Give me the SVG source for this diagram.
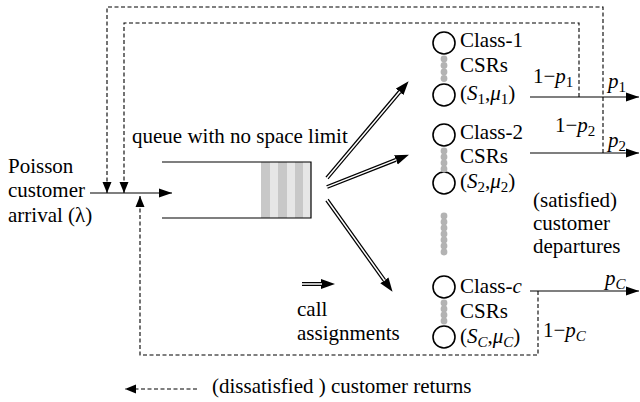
<svg xmlns="http://www.w3.org/2000/svg" width="640" height="402" viewBox="0 0 640 402">
<defs>
<marker id="ah" markerUnits="userSpaceOnUse" markerWidth="13" markerHeight="10" viewBox="0 -5 13 10" refX="13" refY="0" orient="auto"><path d="M0,-4.5L13,0L0,4.5z" fill="#000"/></marker>
<marker id="dh" markerUnits="userSpaceOnUse" markerWidth="11" markerHeight="10" viewBox="0 -5 11 10" refX="11" refY="0" orient="auto"><path d="M0,-4.5L11,0L0,4.5z" fill="#000"/></marker>
<marker id="bh" markerUnits="userSpaceOnUse" markerWidth="14" markerHeight="11" viewBox="0 -5.5 14 11" refX="0" refY="0" orient="auto"><path d="M0,-5L14,0L0,5z" fill="#000"/></marker>
</defs>

<g id="connectors" fill="none">
<g stroke="#000" stroke-width="1.1" stroke-dasharray="4 2.5" marker-end="url(#dh)">
<path d="M603,153V7H107V193"/>
<path d="M579,97V23H124V193"/>
<path d="M538,291V355H140V196"/>
</g>
<g stroke="#000" stroke-width="1.2" marker-end="url(#ah)">
<path d="M90,193H172"/>
<path d="M530,97H639"/>
<path d="M530,153H639"/>
<path d="M530,291H639"/>
</g>
<g stroke="#000" stroke-width="4" marker-end="url(#bh)">
<path d="M327,178L399.6,91.9"/>
<path d="M327,187L395.9,159.8"/>
<path d="M327,200L384.4,280.4"/>
</g>
<g stroke="#fff" stroke-width="1.5">
<path d="M326,179.2L400,91.4"/>
<path d="M325.5,187.6L396.4,159.6"/>
<path d="M326.1,198.7L384.7,280.8"/>
</g>
</g>

<g id="queue">
<rect x="261" y="162" width="9" height="56" fill="#c8c8c8"/>
<rect x="270" y="162" width="8" height="56" fill="#e6e6e6"/>
<rect x="278" y="162" width="9" height="56" fill="#c8c8c8"/>
<rect x="287" y="162" width="8" height="56" fill="#e6e6e6"/>
<rect x="295" y="162" width="8" height="56" fill="#c8c8c8"/>
<rect x="303" y="162" width="8" height="56" fill="#e6e6e6"/>
<path d="M162,162H311V218H162" fill="none" stroke="#000" stroke-width="1.2"/>
<text x="132" y="143" font-family="Liberation Serif" font-size="21">queue with no space limit</text>
</g>

<g id="arrival">
<text x="8" y="173" font-family="Liberation Serif" font-size="21">Poisson</text>
<text x="8" y="197" font-family="Liberation Serif" font-size="21">customer</text>
<text x="8" y="222" font-family="Liberation Serif" font-size="21">arrival (&#955;)</text>
</g>

<g id="class1">
<g fill="#fff" stroke="#000" stroke-width="1.6"><circle cx="444" cy="43" r="11"/><circle cx="444" cy="95" r="11"/></g>
<g fill="#b3b3b3"><circle cx="444" cy="59" r="3.4"/><circle cx="444" cy="65.5" r="3.4"/><circle cx="444" cy="72" r="3.4"/><circle cx="444" cy="78.5" r="3.4"/></g>
<text x="460" y="47" font-family="Liberation Serif" font-size="21">Class-1</text>
<text x="460" y="72" font-family="Liberation Serif" font-size="21">CSRs</text>
<text x="460" y="100" font-family="Liberation Serif" font-size="21">(<tspan font-style="italic">S</tspan><tspan font-size="15" dy="4">1</tspan><tspan dy="-4">,</tspan><tspan font-style="italic">&#956;</tspan><tspan font-size="15" dy="4">1</tspan><tspan dy="-4">)</tspan></text>
</g>

<g id="class2">
<g fill="#fff" stroke="#000" stroke-width="1.6"><circle cx="444" cy="135" r="11"/><circle cx="444" cy="183" r="11"/></g>
<g fill="#b3b3b3"><circle cx="444" cy="151" r="3.4"/><circle cx="444" cy="157" r="3.4"/><circle cx="444" cy="163" r="3.4"/><circle cx="444" cy="169" r="3.4"/></g>
<text x="460" y="139" font-family="Liberation Serif" font-size="21">Class-2</text>
<text x="460" y="163" font-family="Liberation Serif" font-size="21">CSRs</text>
<text x="460" y="188" font-family="Liberation Serif" font-size="21">(<tspan font-style="italic">S</tspan><tspan font-size="15" dy="4">2</tspan><tspan dy="-4">,</tspan><tspan font-style="italic">&#956;</tspan><tspan font-size="15" dy="4">2</tspan><tspan dy="-4">)</tspan></text>
</g>

<g id="ellipsis" fill="#b3b3b3">
<circle cx="444" cy="216" r="3.4"/><circle cx="444" cy="222" r="3.4"/><circle cx="444" cy="228" r="3.4"/><circle cx="444" cy="234" r="3.4"/><circle cx="444" cy="240" r="3.4"/><circle cx="444" cy="246" r="3.4"/><circle cx="444" cy="252" r="3.4"/>
</g>

<g id="classc">
<g fill="#fff" stroke="#000" stroke-width="1.6"><circle cx="444" cy="287" r="11"/><circle cx="444" cy="337" r="11"/></g>
<g fill="#b3b3b3"><circle cx="444" cy="303" r="3.4"/><circle cx="444" cy="309" r="3.4"/><circle cx="444" cy="315" r="3.4"/><circle cx="444" cy="321" r="3.4"/></g>
<text x="460" y="293" font-family="Liberation Serif" font-size="21">Class-<tspan font-style="italic">c</tspan></text>
<text x="460" y="318" font-family="Liberation Serif" font-size="21">CSRs</text>
<text x="460" y="343" font-family="Liberation Serif" font-size="21">(<tspan font-style="italic">S</tspan><tspan font-style="italic" font-size="15" dy="4">C</tspan><tspan dy="-4">,</tspan><tspan font-style="italic">&#956;</tspan><tspan font-style="italic" font-size="15" dy="4">C</tspan><tspan dy="-4">)</tspan></text>
</g>

<g id="probabilities">
<text x="533" y="83" font-family="Liberation Serif" font-size="21">1&#8722;<tspan font-style="italic">p</tspan><tspan font-size="15" dy="4">1</tspan></text>
<text x="608" y="88" font-family="Liberation Serif" font-size="21"><tspan font-style="italic">p</tspan><tspan font-size="15" dy="4">1</tspan></text>
<text x="555" y="132" font-family="Liberation Serif" font-size="21">1&#8722;<tspan font-style="italic">p</tspan><tspan font-size="15" dy="4">2</tspan></text>
<text x="608" y="147" font-family="Liberation Serif" font-size="21"><tspan font-style="italic">p</tspan><tspan font-size="15" dy="4">2</tspan></text>
<text x="605" y="285" font-family="Liberation Serif" font-size="21" font-style="italic">p<tspan font-size="15" dy="4">C</tspan></text>
<text x="543" y="337" font-family="Liberation Serif" font-size="21">1&#8722;<tspan font-style="italic">p</tspan><tspan font-style="italic" font-size="15" dy="4">C</tspan></text>
</g>

<g id="departures">
<text x="533" y="207" font-family="Liberation Serif" font-size="21">(satisfied)</text>
<text x="533" y="230" font-family="Liberation Serif" font-size="21">customer</text>
<text x="533" y="253" font-family="Liberation Serif" font-size="21">departures</text>
</g>

<g id="legend">
<path d="M302,284H321" fill="none" stroke="#000" stroke-width="4" marker-end="url(#bh)"/>
<path d="M301,284H322" fill="none" stroke="#fff" stroke-width="1.5"/>
<text x="297" y="316" font-family="Liberation Serif" font-size="21">call</text>
<text x="297" y="340" font-family="Liberation Serif" font-size="21">assignments</text>
<path d="M197,389H125" fill="none" stroke="#000" stroke-width="1.1" stroke-dasharray="4 2.5" marker-end="url(#dh)"/>
<text x="212" y="393" font-family="Liberation Serif" font-size="21">(dissatisfied ) customer returns</text>
</g>
</svg>
